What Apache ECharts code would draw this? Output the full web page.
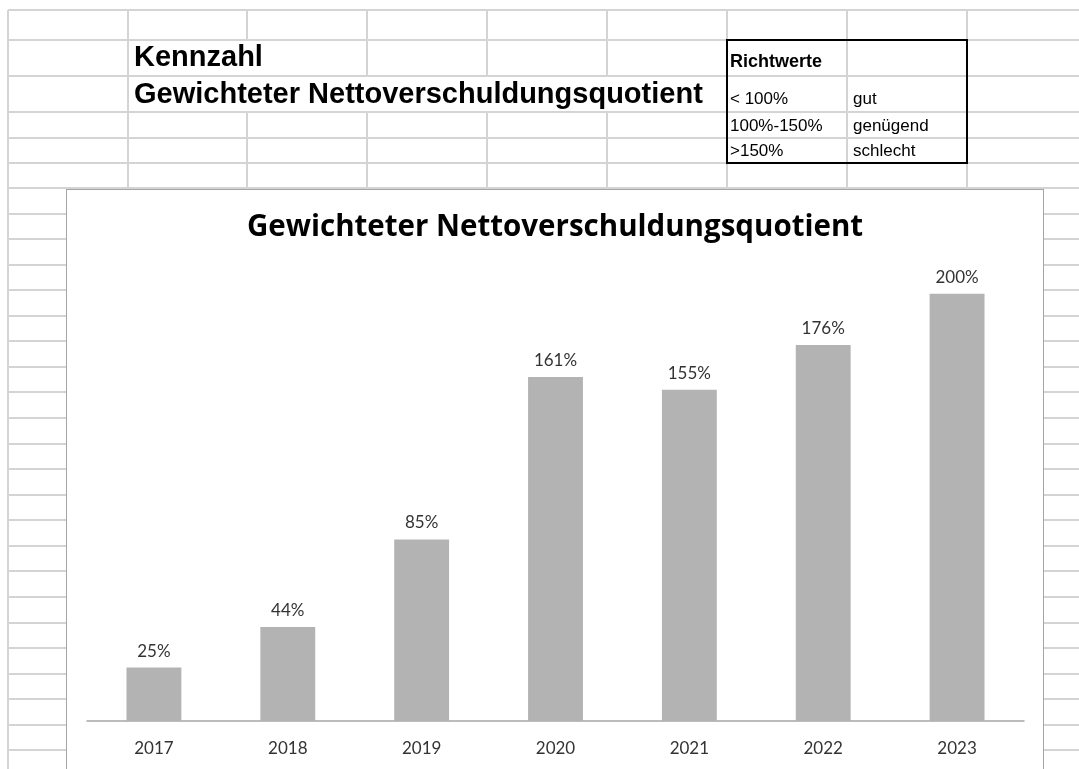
<!DOCTYPE html>
<html>
<head>
<meta charset="utf-8">
<script src="https://cdn.jsdelivr.net/npm/echarts@6/dist/echarts.min.js"></script>
<style>
  html, body { margin: 0; padding: 0; background: #fff; overflow: hidden; }
  #sheet { position: absolute; left: 0; top: 0; width: 1079px; height: 769px; }
  #chart {
    position: absolute; left: 66px; top: 189px;
    width: 976px; height: 580px;
    border: 1px solid #a5a5a5; background: #fff;
  }
</style>
</head>
<body>
<div id="sheet"></div>
<div id="chart"></div>
<script>
// chart data
const years = ['2017', '2018', '2019', '2020', '2021', '2022', '2023'];
const quotient = [25, 44, 85, 161, 155, 176, 200];
const chartTitle = 'Gewichteter Nettoverschuldungsquotient';

// sheet texts
const sheetHeading = 'Kennzahl';
const sheetSubheading = 'Gewichteter Nettoverschuldungsquotient';
const richtwerteTitle = 'Richtwerte';
const richtwerteBands = ['< 100%', '100%-150%', '>150%'];
const richtwerteRatings = ['gut', 'genügend', 'schlecht'];

// --- spreadsheet background ---
const colXs = [8, 128, 247, 367, 487, 607, 727, 847, 967];
const topRowYs = [10, 40, 76, 112, 138, 163, 188];
// columns hidden where long text overflows (row band index -> cols)
const hiddenCols = { 1: [247], 2: [247, 367, 487, 607] };
const gridColor = '#d4d4d4';

let els = [];
function line(x1, y1, x2, y2, color, w) {
  els.push({
    type: 'line', z: 0, silent: true,
    shape: { x1, y1, x2, y2 },
    style: { stroke: color || gridColor, lineWidth: w || 2 }
  });
}
topRowYs.forEach((y) => line(8, y, 1079, y));
for (let i = 0; i < topRowYs.length - 1; i++) {
  colXs.forEach((x) => {
    if (x === 8) return;
    if ((hiddenCols[i] || []).includes(x)) return;
    line(x, topRowYs[i], x, topRowYs[i + 1]);
  });
}
line(8, 10, 8, 769);
for (let y = 188 + 25.56; y < 769; y += 25.56) {
  let yy = Math.round(y);
  line(8, yy, 66, yy);
  line(1044, yy, 1079, yy);
}

// Richtwerte table frame
els.push({
  type: 'rect', z: 2, silent: true,
  shape: { x: 727, y: 40, width: 240, height: 123 },
  style: { fill: 'none', stroke: '#000', lineWidth: 2 }
});

function txt(text, x, y, font) {
  els.push({
    type: 'text', z: 3, silent: true, x, y,
    style: { text, font, fill: '#000', textVerticalAlign: 'middle' }
  });
}
txt(sheetHeading, 134, 58, 'bold 29px "Liberation Sans", Arial');
txt(sheetSubheading, 134, 95, 'bold 29px "Liberation Sans", Arial');
txt(richtwerteTitle, 730, 62, 'bold 18px "Liberation Sans", Arial');
const bandYs = [99, 126, 151];
richtwerteBands.forEach((b, i) => {
  txt(b, 730, bandYs[i], '17px "Liberation Sans", Arial');
  txt(richtwerteRatings[i], 853, bandYs[i], '17px "Liberation Sans", Arial');
});

const sheet = echarts.init(document.getElementById('sheet'));
sheet.setOption({ animation: false, graphic: { elements: els } });

// --- bar chart ---
const chart = echarts.init(document.getElementById('chart'));
chart.setOption({
  animation: false,
  title: {
    text: chartTitle,
    left: 'center',
    top: 18,
    textStyle: { fontFamily: 'Open Sans', fontWeight: 'bold', fontSize: 29.5, color: '#000' }
  },
  grid: { left: 20, right: 19, top: 61, bottom: 49 },
  xAxis: {
    type: 'category',
    data: years,
    axisTick: { show: false },
    axisLine: { lineStyle: { color: '#a6a6a6', width: 1.5 } },
    axisLabel: { fontFamily: 'Lato', fontSize: 17, color: '#333', margin: 19 }
  },
  yAxis: { type: 'value', min: 0, max: 220, show: false },
  series: [
    {
      name: 'Quotient',
      type: 'bar',
      data: quotient,
      barWidth: '41%',
      itemStyle: { color: '#b3b3b3' },
      label: {
        show: true,
        position: 'top',
        distance: 8,
        formatter: '{c}%',
        fontFamily: 'Lato',
        fontSize: 17,
        color: '#333'
      }
    }
  ]
});
</script>
</body>
</html>
